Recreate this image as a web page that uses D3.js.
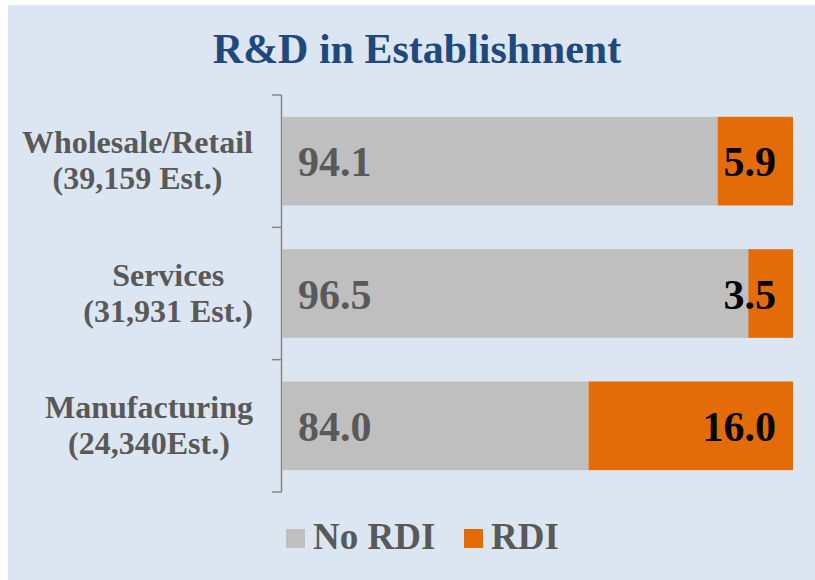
<!DOCTYPE html>
<html>
<head>
<meta charset="utf-8">
<script src="https://cdn.jsdelivr.net/npm/d3@7"></script>
<style>
  body { margin: 0; background: #ffffff; }
  text { font-family: "Liberation Serif", "Times New Roman", serif; font-weight: bold; }
</style>
</head>
<body>
<script>
// data
let categories = [
    ["Wholesale/Retail", "(39,159 Est.)"],
    ["Services", "(31,931 Est.)"],
    ["Manufacturing", "(24,340Est.)"]
];
let noRdi = [94.1, 96.5, 84.0];
let rdi = [5.9, 3.5, 16.0];
let seriesNames = ["No RDI", "RDI"];
let seriesColors = ["#bfbfbf", "#e36c09"];
let xDomain = [60, 100]; // value axis of the original starts at 60

//---------------------------------------------------------------------------------------------------//

let width = 815, height = 580;
let svg = d3.select('body').append('svg').attr('width', width).attr('height', height);

svg.append('rect')
    .attr('x', 8).attr('y', 5)
    .attr('width', width - 8).attr('height', height - 5)
    .attr('fill', '#dce6f2');

svg.append('text')
    .attr('x', 417).attr('y', 63)
    .attr('text-anchor', 'middle')
    .attr('font-size', 42)
    .attr('fill', '#1f497d')
    .text('R&D in Establishment');

let rows = categories.map((c, i) => ({ key: i, label: c, no: noRdi[i], yes: rdi[i] }));

let x = d3.scaleLinear().domain(xDomain).range([282, 793]);
let y = d3.scaleBand().domain(rows.map(d => d.key)).range([95, 492])
    .paddingInner(0.33).paddingOuter(0.165);

// axis line with ticks on category boundaries
let axisG = svg.append('g');
axisG.append('line')
    .attr('x1', 281.5).attr('x2', 281.5).attr('y1', 95).attr('y2', 492)
    .attr('stroke', '#868686').attr('stroke-width', 1.5);
let bounds = d3.range(rows.length + 1).map(i => 95 + i * y.step());
axisG.selectAll('.tick').data(bounds).enter().append('line')
    .attr('x1', 272).attr('x2', 281.5)
    .attr('y1', d => d).attr('y2', d => d)
    .attr('stroke', '#868686').attr('stroke-width', 1.5);

// bars
let barG = svg.append('g');
barG.selectAll('.no').data(rows).enter().append('rect')
    .attr('x', x(xDomain[0]))
    .attr('y', d => y(d.key))
    .attr('width', d => x(d.no) - x(xDomain[0]))
    .attr('height', y.bandwidth())
    .attr('fill', seriesColors[0]);
barG.selectAll('.yes').data(rows).enter().append('rect')
    .attr('x', d => x(d.no))
    .attr('y', d => y(d.key))
    .attr('width', d => x(d.no + d.yes) - x(d.no))
    .attr('height', y.bandwidth())
    .attr('fill', seriesColors[1]);

// value labels
barG.selectAll('.nolab').data(rows).enter().append('text')
    .attr('x', x(xDomain[0]) + 16)
    .attr('y', d => y(d.key) + y.bandwidth() / 2 + 15)
    .attr('font-size', 42)
    .attr('fill', '#595959')
    .text(d => d.no.toFixed(1));
barG.selectAll('.yeslab').data(rows).enter().append('text')
    .attr('x', d => x(d.no + d.yes) - 17)
    .attr('y', d => y(d.key) + y.bandwidth() / 2 + 15)
    .attr('text-anchor', 'end')
    .attr('font-size', 42)
    .attr('fill', '#000000')
    .text(d => d.yes.toFixed(1));

// category labels: lines centred within a block that is right-aligned to the axis
let catG = svg.append('g');
let catText = catG.selectAll('text').data(rows).enter().append('text')
    .attr('text-anchor', 'middle')
    .attr('font-size', 32)
    .attr('fill', '#595959');
catText.selectAll('tspan').data(d => d.label.map((t, j) => ({ t: t, j: j, key: d.key }))).enter()
    .append('tspan')
    .attr('y', d => y(d.key) + y.bandwidth() / 2 - 8 + d.j * 36)
    .text(d => d.t);
catText.each(function() {
    let spans = d3.select(this).selectAll('tspan');
    let w = d3.max(spans.nodes(), n => n.getComputedTextLength());
    spans.attr('x', 253 - w / 2);
});

// legend
let legendX = [286, 464];
let legend = svg.append('g').selectAll('g').data(seriesNames).enter().append('g')
    .attr('transform', (d, i) => 'translate(' + legendX[i] + ',529)');
legend.append('rect').attr('width', 19).attr('height', 19).attr('fill', (d, i) => seriesColors[i]);
legend.append('text')
    .attr('x', 27).attr('y', 20)
    .attr('font-size', 37)
    .attr('fill', '#595959')
    .text(d => d);
</script>
</body>
</html>
